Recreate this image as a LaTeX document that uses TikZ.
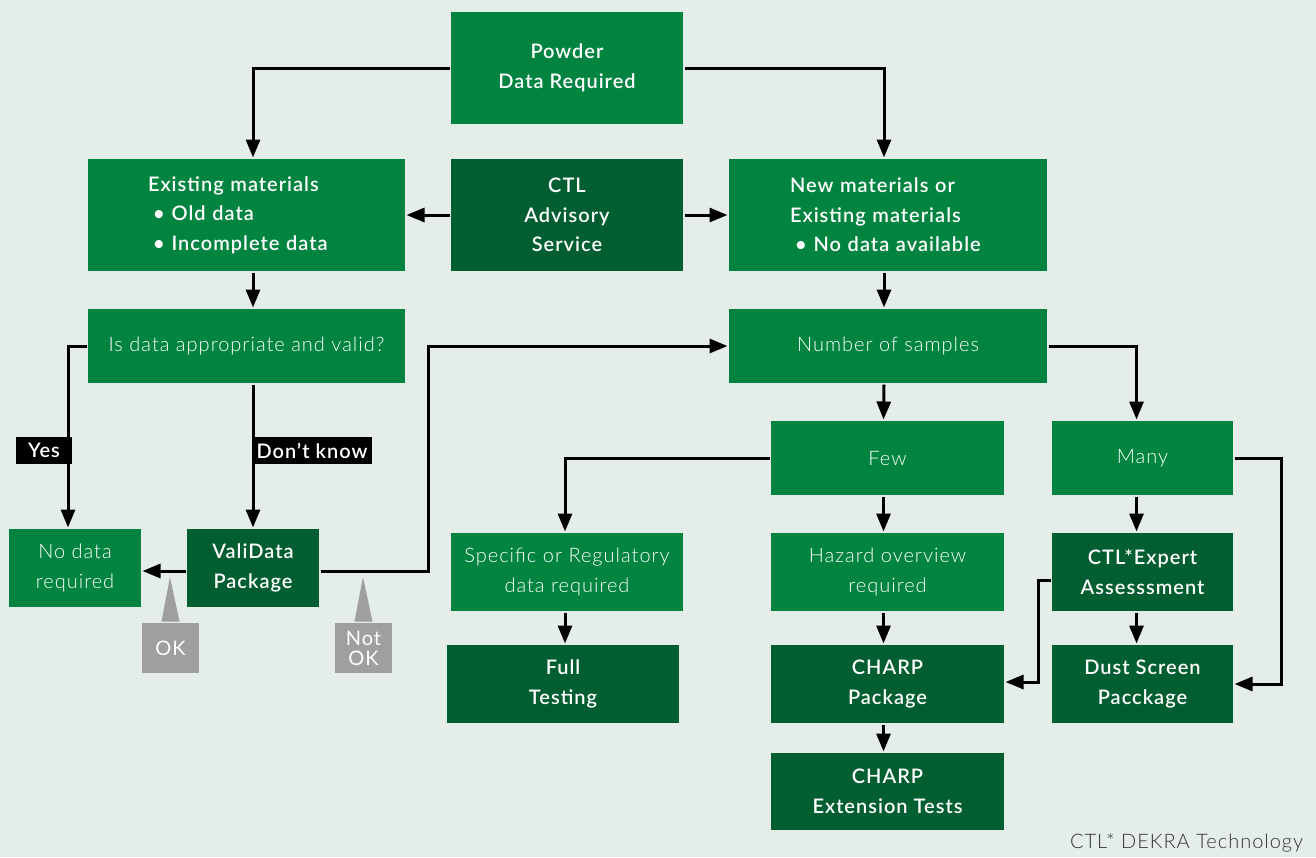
\documentclass[tikz,border=0pt]{standalone}
\usepackage{fontspec}
\setmainfont{Lato}[BoldFont=* Semibold, LetterSpace=5]
\newfontfamily\lightfont{Lato}[UprightFont=* Light, LetterSpace=5]
\usetikzlibrary{arrows.meta}
\definecolor{ctlgreen}{HTML}{00843F}
\definecolor{ctldark}{HTML}{005E31}
\definecolor{paper}{HTML}{E4EDE8}
\definecolor{taggrey}{HTML}{9E9F9E}
\tikzset{box/.style={fill=ctlgreen, text=white, rectangle, inner sep=0pt, align=center, font=\fontsize{20}{29.5}\selectfont\bfseries}}
\tikzset{darkbox/.style={box, fill=ctldark}}
\tikzset{lightbox/.style={box, font=\fontsize{20}{29.5}\selectfont\lightfont}}
\tikzset{listbox/.style={box, align=left, inner xsep=60pt, minimum height=112pt}}
\tikzset{answer/.style={fill=black, text=white, inner sep=0pt, minimum height=27pt, font=\fontsize{20}{22}\selectfont\bfseries}}
\tikzset{callout/.style={fill=taggrey, text=white, inner sep=0pt, align=center, minimum width=57pt, minimum height=50pt, font=\fontsize{20}{20}\selectfont}}

\begin{document}
\begin{tikzpicture}[x=1pt, y=-1pt, >={Triangle[length=18pt,width=14pt]}, line width=3pt]
    \fill[paper] (0,0) rectangle (1316,857);
    \useasboundingbox (0,0) rectangle (1316,857);

    % top row
    \node[box, minimum width=232pt, minimum height=112pt] at (567,68) (powder) {Powder\\Data Required};
    \node[listbox, text width=197pt] at (246.5,215) (existing) {Existing materials\\{\lightfont\hspace*{5pt}\textbullet\hspace{7pt}Old data}\\{\lightfont\hspace*{5pt}\textbullet\hspace{7pt}Incomplete data}};
    \node[darkbox, minimum width=232pt, minimum height=112pt] at (567,215) (advisory) {CTL\\Advisory\\Service};
    \node[listbox, inner xsep=61pt, text width=196pt] at (888,215) (newmat) {New materials or\\Existing materials\\{\lightfont\hspace*{5pt}\textbullet\hspace{7pt}No data available}};

    % questions
    \node[lightbox, minimum width=317pt, minimum height=74pt] at (246.5,346) (valid) {Is data appropriate and valid?};
    \node[lightbox, minimum width=318pt, minimum height=74pt] at (888,346) (samples) {Number of samples};
    \node[lightbox, minimum width=233pt, minimum height=74pt] at (887.5,458) (few) {Few};
    \node[lightbox, minimum width=181pt, minimum height=74pt] at (1142.5,458) (many) {Many};

    % outcomes
    \node[lightbox, minimum width=132pt, minimum height=78pt] at (75,568) (nodata) {No data\\required};
    \node[darkbox, minimum width=132pt, minimum height=78pt] at (253,568) (validata) {ValiData\\Package};
    \node[lightbox, minimum width=232pt, minimum height=78pt] at (567,572) (specific) {Specific or Regulatory\\data required};
    \node[lightbox, minimum width=233pt, minimum height=78pt] at (887.5,572) (hazard) {Hazard overview\\required};
    \node[darkbox, minimum width=181pt, minimum height=78pt] at (1142.5,572) (expert) {CTL*Expert\\Assesssment};
    \node[darkbox, minimum width=232pt, minimum height=78pt] at (563,684) (full) {Full\\Testing};
    \node[darkbox, minimum width=233pt, minimum height=78pt] at (887.5,684) (charp) {CHARP\\Package};
    \node[darkbox, minimum width=181pt, minimum height=78pt] at (1142.5,684) (dust) {Dust Screen\\Pacckage};
    \node[darkbox, minimum width=233pt, minimum height=77pt] at (887.5,791.5) (charpext) {CHARP\\Extension Tests};

    % connectors
    \draw [->] (powder.west) -| (existing.north -| validata.north);
    \draw [->] (powder.east) -| ([xshift=-4pt]newmat.north);
    \draw [->] (advisory.west) -- (existing.east);
    \draw [->] (advisory.east) -- (newmat.west);
    \draw [->] (existing.south -| validata.north) -- (valid.north -| validata.north);
    \draw [->] ([xshift=-4pt]newmat.south) -- ([xshift=-4pt]samples.north);
    \draw [->] (valid.west) -| ([xshift=-7pt]nodata.north);
    \draw [->] (valid.south -| validata.north) -- (validata.north);
    \draw [->] ([yshift=-3pt]validata.west) -- ([yshift=-3pt]nodata.east);
    \draw [->] ([yshift=-3pt]validata.east) -- (428,571) |- (samples.west);
    \draw [->] (samples.east) -| ([xshift=-6pt]many.north);
    \draw [->] ([xshift=-4pt]samples.south) -- ([xshift=-4pt]few.north);
    \draw [->] (few.west) -| ([xshift=-2pt]specific.north);
    \draw [->] ([xshift=-4pt]few.south) -- ([xshift=-4pt]hazard.north);
    \draw [->] (many.east) -- (1281,458) |- (dust.east);
    \draw [->] ([xshift=-6pt]many.south) -- ([xshift=-6pt]expert.north);
    \draw [->] ([yshift=-8pt]expert.west) -- (1038,580) |- ([yshift=2pt]charp.east);
    \draw [->] ([xshift=-6pt]expert.south) -- ([xshift=-6pt]dust.north);
    \draw [->] ([xshift=2pt]full.north |- specific.south) -- ([xshift=2pt]full.north);
    \draw [->] ([xshift=-4pt]hazard.south) -- ([xshift=-4pt]charp.north);
    \draw [->] ([xshift=-4pt]charp.south) -- ([xshift=-4pt]charpext.north);

    % answers on the lines
    \node[answer, minimum width=56pt] at (44,450.5) (yes) {Yes};
    \node[answer, minimum width=120pt] at (312,450.5) (dontknow) {Don’t know};

    % callouts
    \node[callout] at (170.5,648) (ok) {OK};
    \fill[taggrey] ([xshift=-9pt]ok.north) -- (170,577) -- ([xshift=9pt]ok.north) -- cycle;
    \node[callout] at (363.5,648) (notok) {Not\\OK};
    \fill[taggrey] ([xshift=-9pt]notok.north) -- (363,577) -- ([xshift=9pt]notok.north) -- cycle;

    \node[anchor=east, text=black!80, font=\fontsize{20}{22}\selectfont\lightfont] at (1308,843) (credit) {CTL* DEKRA Technology};
\end{tikzpicture}
\end{document}
